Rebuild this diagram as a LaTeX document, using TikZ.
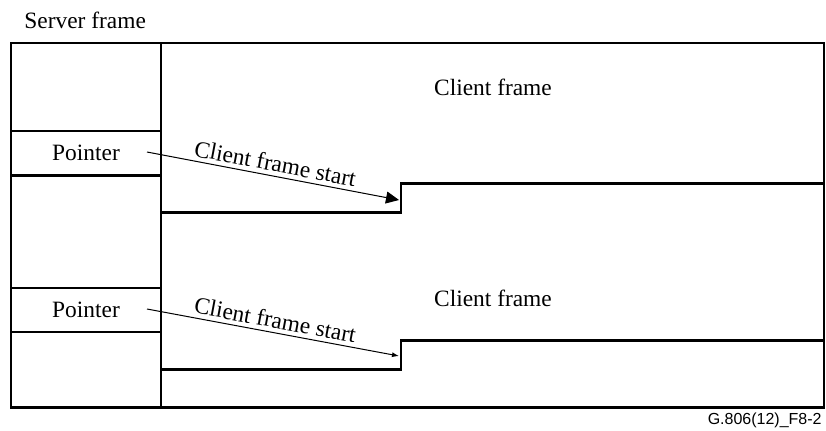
\documentclass[tikz,border=0pt]{standalone}
\usepackage{fontspec}
\setmainfont{Liberation Serif}
\newfontfamily\figfont{Liberation Sans}
\usetikzlibrary{arrows.meta, positioning}

\begin{document}
\begin{tikzpicture}[x=0.5pt, y=-0.5pt, font=\fontsize{11.7}{14}\selectfont,
    frameline/.style={line width=1.3pt, line join=miter},
    ptrline/.style={line width=0.5pt},
    lbl/.style={inner sep=0pt}]
        \useasboundingbox (0,0) rectangle (826,430);

        % Server frame outline and pointer column
        \node[lbl, anchor=base west] (server) at (24,28) {Server frame};
        \draw[frameline] (11,43) rectangle (824,407.5);
        \draw[frameline] (161,43) -- (161,407.5);
        \draw[frameline] (11,131) -- (161,131) (11,175.5) -- (161,175.5);
        \draw[frameline] (11,288) -- (161,288) (11,332) -- (161,332);

        % Client frame boundaries (steps)
        \coordinate (low1) at (161,212.5);
        \coordinate (step1) at (401,212.5);
        \coordinate (high1) at (824,183.5);
        \draw[frameline] (low1) -- (step1) |- (high1);
        \coordinate (low2) at (161,369.5);
        \coordinate (step2) at (401,369.5);
        \coordinate (high2) at (824,340.5);
        \draw[frameline] (low2) -- (step2) |- (high2);

        % Labels
        \node[lbl] (client1) at (493,87) {Client frame};
        \node[lbl] (client2) at (493,298) {Client frame};
        \node[lbl] (ptr1) at (86,153) {Pointer};
        \node[lbl] (ptr2) at (86,310) {Pointer};

        % Pointer arrows
        \coordinate (from1) at (147,152);
        \coordinate (tip1) at (399,200);
        \coordinate (from2) at (147,309);
        \coordinate (tip2) at (399,356);
        \draw[ptrline, -{Triangle[length=6.5pt, width=6pt]}] (from1) -- (tip1)
            node[midway, sloped, above, inner sep=2pt] {Client frame start};
        \draw[ptrline, -{Latex[length=3.5pt, width=2.5pt]}] (from2) -- (tip2)
            node[midway, sloped, above, inner sep=2pt] {Client frame start};

        % Figure number
        \node[lbl, anchor=base east, font=\figfont\fontsize{8}{10}\selectfont] (fig) at (822,424) {G.806(12)\_F8-2};

    \end{tikzpicture}
\end{document}
